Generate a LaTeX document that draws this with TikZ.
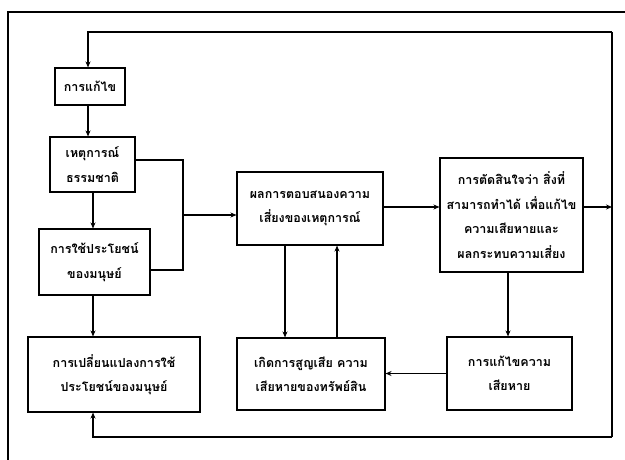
\documentclass[tikz,border=0pt]{standalone}
\usepackage{fontspec}
\newfontfamily\thai[Script=Thai]{Loma}
\usetikzlibrary{arrows.meta}
\begin{document}
\begin{tikzpicture}[x=1pt,y=-1pt,
  box/.style={draw,line width=1.1pt,inner sep=0pt,align=center,
    font=\thai\bfseries\fontsize{12.5}{24.5}\selectfont},
  ln/.style={line width=1.1pt},
  arr/.style={ln,-{Stealth[length=6pt,width=5pt]}}]
\useasboundingbox (0,0) rectangle (625,460);
\fill[white] (0,0) rectangle (625,460);
% boxes
\node[box,minimum width=70pt,minimum height=37pt] (b1) at (90,86.5) {การแก้ไข};
\node[box,minimum width=85pt,minimum height=55pt] (b2) at (92.5,164.5) {เหตุการณ์\\ธรรมชาติ};
\node[box,minimum width=111pt,minimum height=66pt] (b3) at (94.5,262) {การใช้ประโยชน์\\ของมนุษย์};
\node[box,minimum width=172pt,minimum height=75pt] (b4) at (114,374.5) {การเปลี่ยนแปลงการใช้\\ประโยชน์ของมนุษย์};
\node[box,minimum width=146pt,minimum height=73pt] (b5) at (310,208.5) {ผลการตอบสนองความ\\เสี่ยงของเหตุการณ์};
\node[box,minimum width=143pt,minimum height=114pt] (b6) at (511.5,215) {การตัดสินใจว่า สิ่งที่\\สามารถทำได้ เพื่อแก้ไข\\ความเสียหายและ\\ผลกระทบความเสี่ยง};
\node[box,minimum width=125pt,minimum height=73pt] (b7) at (509.5,373.5) {การแก้ไขความ\\เสียหาย};
\node[box,minimum width=148pt,minimum height=72pt] (b8) at (311,374) {เกิดการสูญเสีย ความ\\เสียหายของทรัพย์สิน};
% helper coordinates
\coordinate (o1) at (8,460);
\coordinate (o2) at (8,12);
\coordinate (o3) at (625,12);
\coordinate (t1) at (88,32);
\coordinate (t2) at (612,32);
\coordinate (r6) at (612,207);
\coordinate (t3) at (612,437);
\coordinate (t4) at (93,437);
\coordinate (cA) at (88,0);
\coordinate (cB) at (93,0);
\coordinate (j1) at (183,160);
\coordinate (j2) at (183,215);
\coordinate (j3) at (183,270);
\coordinate (c5a) at (285,0);
\coordinate (c5b) at (337,0);
\coordinate (c6) at (508,0);
% outer frame
\draw[ln] (o1) -- (o2) -- (o3);
% feedback loop
\draw[arr] (t2) -- (t1) -- (b1.north -| t1);
\draw[ln] (t2) -- (t3);
\draw[arr] (t3) -- (t4) -- (b4.south -| t4);
\draw[arr] (b6.east |- r6) -- (r6);
% left column
\draw[arr] (b1.south -| cA) -- (b2.north -| cA);
\draw[arr] (b2.south -| cB) -- (b3.north -| cB);
\draw[arr] (b3.south -| cB) -- (b4.north -| cB);
\draw[ln] (b2.east |- j1) -- (j1) -- (j3) -- (b3.east |- j3);
\draw[arr] (j2) -- (b5.west |- j2);
% middle / right
\draw[arr] (b5.east |- r6) -- (b6.west |- r6);
\draw[arr] (b5.south -| c5a) -- (b8.north -| c5a);
\draw[arr] (b8.north -| c5b) -- (b5.south -| c5b);
\draw[arr] (b6.south -| c6) -- (b7.north -| c6);
\draw[arr] (b7.west) -- (b8.east |- b7.west);
\end{tikzpicture}
\end{document}
